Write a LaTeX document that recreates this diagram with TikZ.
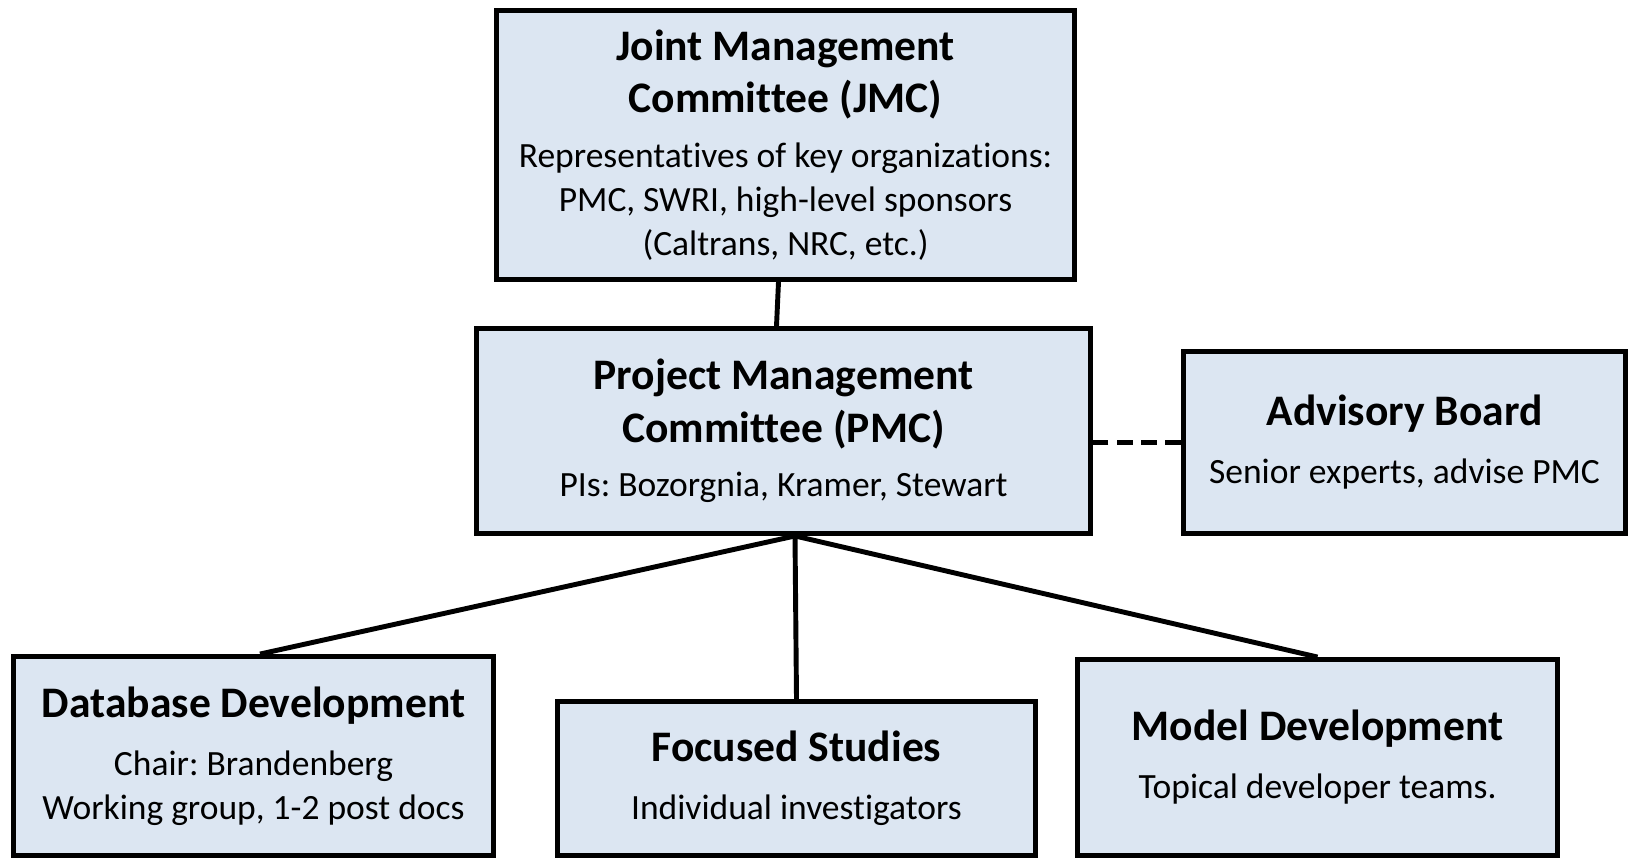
\documentclass[tikz,border=0pt]{standalone}
\usepackage{fontspec}
\setmainfont{Carlito}[Ligatures={NoCommon,NoContextual,NoRare}]
\frenchspacing
\usetikzlibrary{calc}
\definecolor{boxfill}{HTML}{DCE6F2}
\newcommand{\hdr}{\fontsize{12.4}{14.8}\selectfont\bfseries}
\newcommand{\txt}{\fontsize{10.1}{12.5}\selectfont\mdseries}
\tikzset{
  unit/.style={draw=black, line width=1.4pt, fill=boxfill, align=center,
    inner sep=0pt, font=\txt},
  link/.style={line width=1.4pt},
}
\begin{document}
\begin{tikzpicture}
      \useasboundingbox (0,0) rectangle (16.31,-8.60);
      \node[unit, minimum width=5.78cm, minimum height=2.69cm] (jmc) at (7.855,-1.45)
        {\hdr Joint Management\\[2.3pt] \hdr Committee (JMC)\\[3pt]
         \txt Representatives of key organizations:\\ \txt PMC, SWRI, high-level sponsors\\ \txt (Caltrans, NRC, etc.)};
      \node[unit, minimum width=6.14cm, minimum height=2.05cm] (pmc) at (7.835,-4.31)
        {\hdr Project Management\\[2.3pt] \hdr Committee (PMC)\\[3pt] \txt PIs: Bozorgnia, Kramer, Stewart};
      \node[unit, minimum width=4.42cm, minimum height=1.82cm] (adv) at (14.045,-4.425)
        {\hdr Advisory Board\\[4pt] \txt Senior experts, advise PMC};
      \node[unit, minimum width=4.80cm, minimum height=1.99cm] (db) at (2.535,-7.56)
        {\hdr Database Development\\[4pt] \txt Chair: Brandenberg\\ \txt Working group, 1-2 post docs};
      \node[unit, minimum width=4.78cm, minimum height=1.54cm] (fs) at (7.965,-7.785)
        {\hdr Focused Studies\\[4pt] \txt Individual investigators};
      \node[unit, minimum width=4.80cm, minimum height=1.96cm] (md) at (13.175,-7.575)
        {\hdr Model Development\\[4pt] \txt Topical developer teams.};
      \coordinate (hub) at ($(pmc.south)+(0.115,0)$);
      \begin{scope}[link]
        \draw ($(jmc.south)+(-0.07,0)$) to ($(pmc.north)+(-0.07,0)$);
        \draw (hub) to ($(db.north)+(0.065,0)$);
        \draw (hub) to (fs.north);
        \draw (hub) to (md.north);
        \draw[dash pattern=on 4.5pt off 2.4pt] (adv.west) to (adv.west -| pmc.east);
      \end{scope}
    \end{tikzpicture}
\end{document}
